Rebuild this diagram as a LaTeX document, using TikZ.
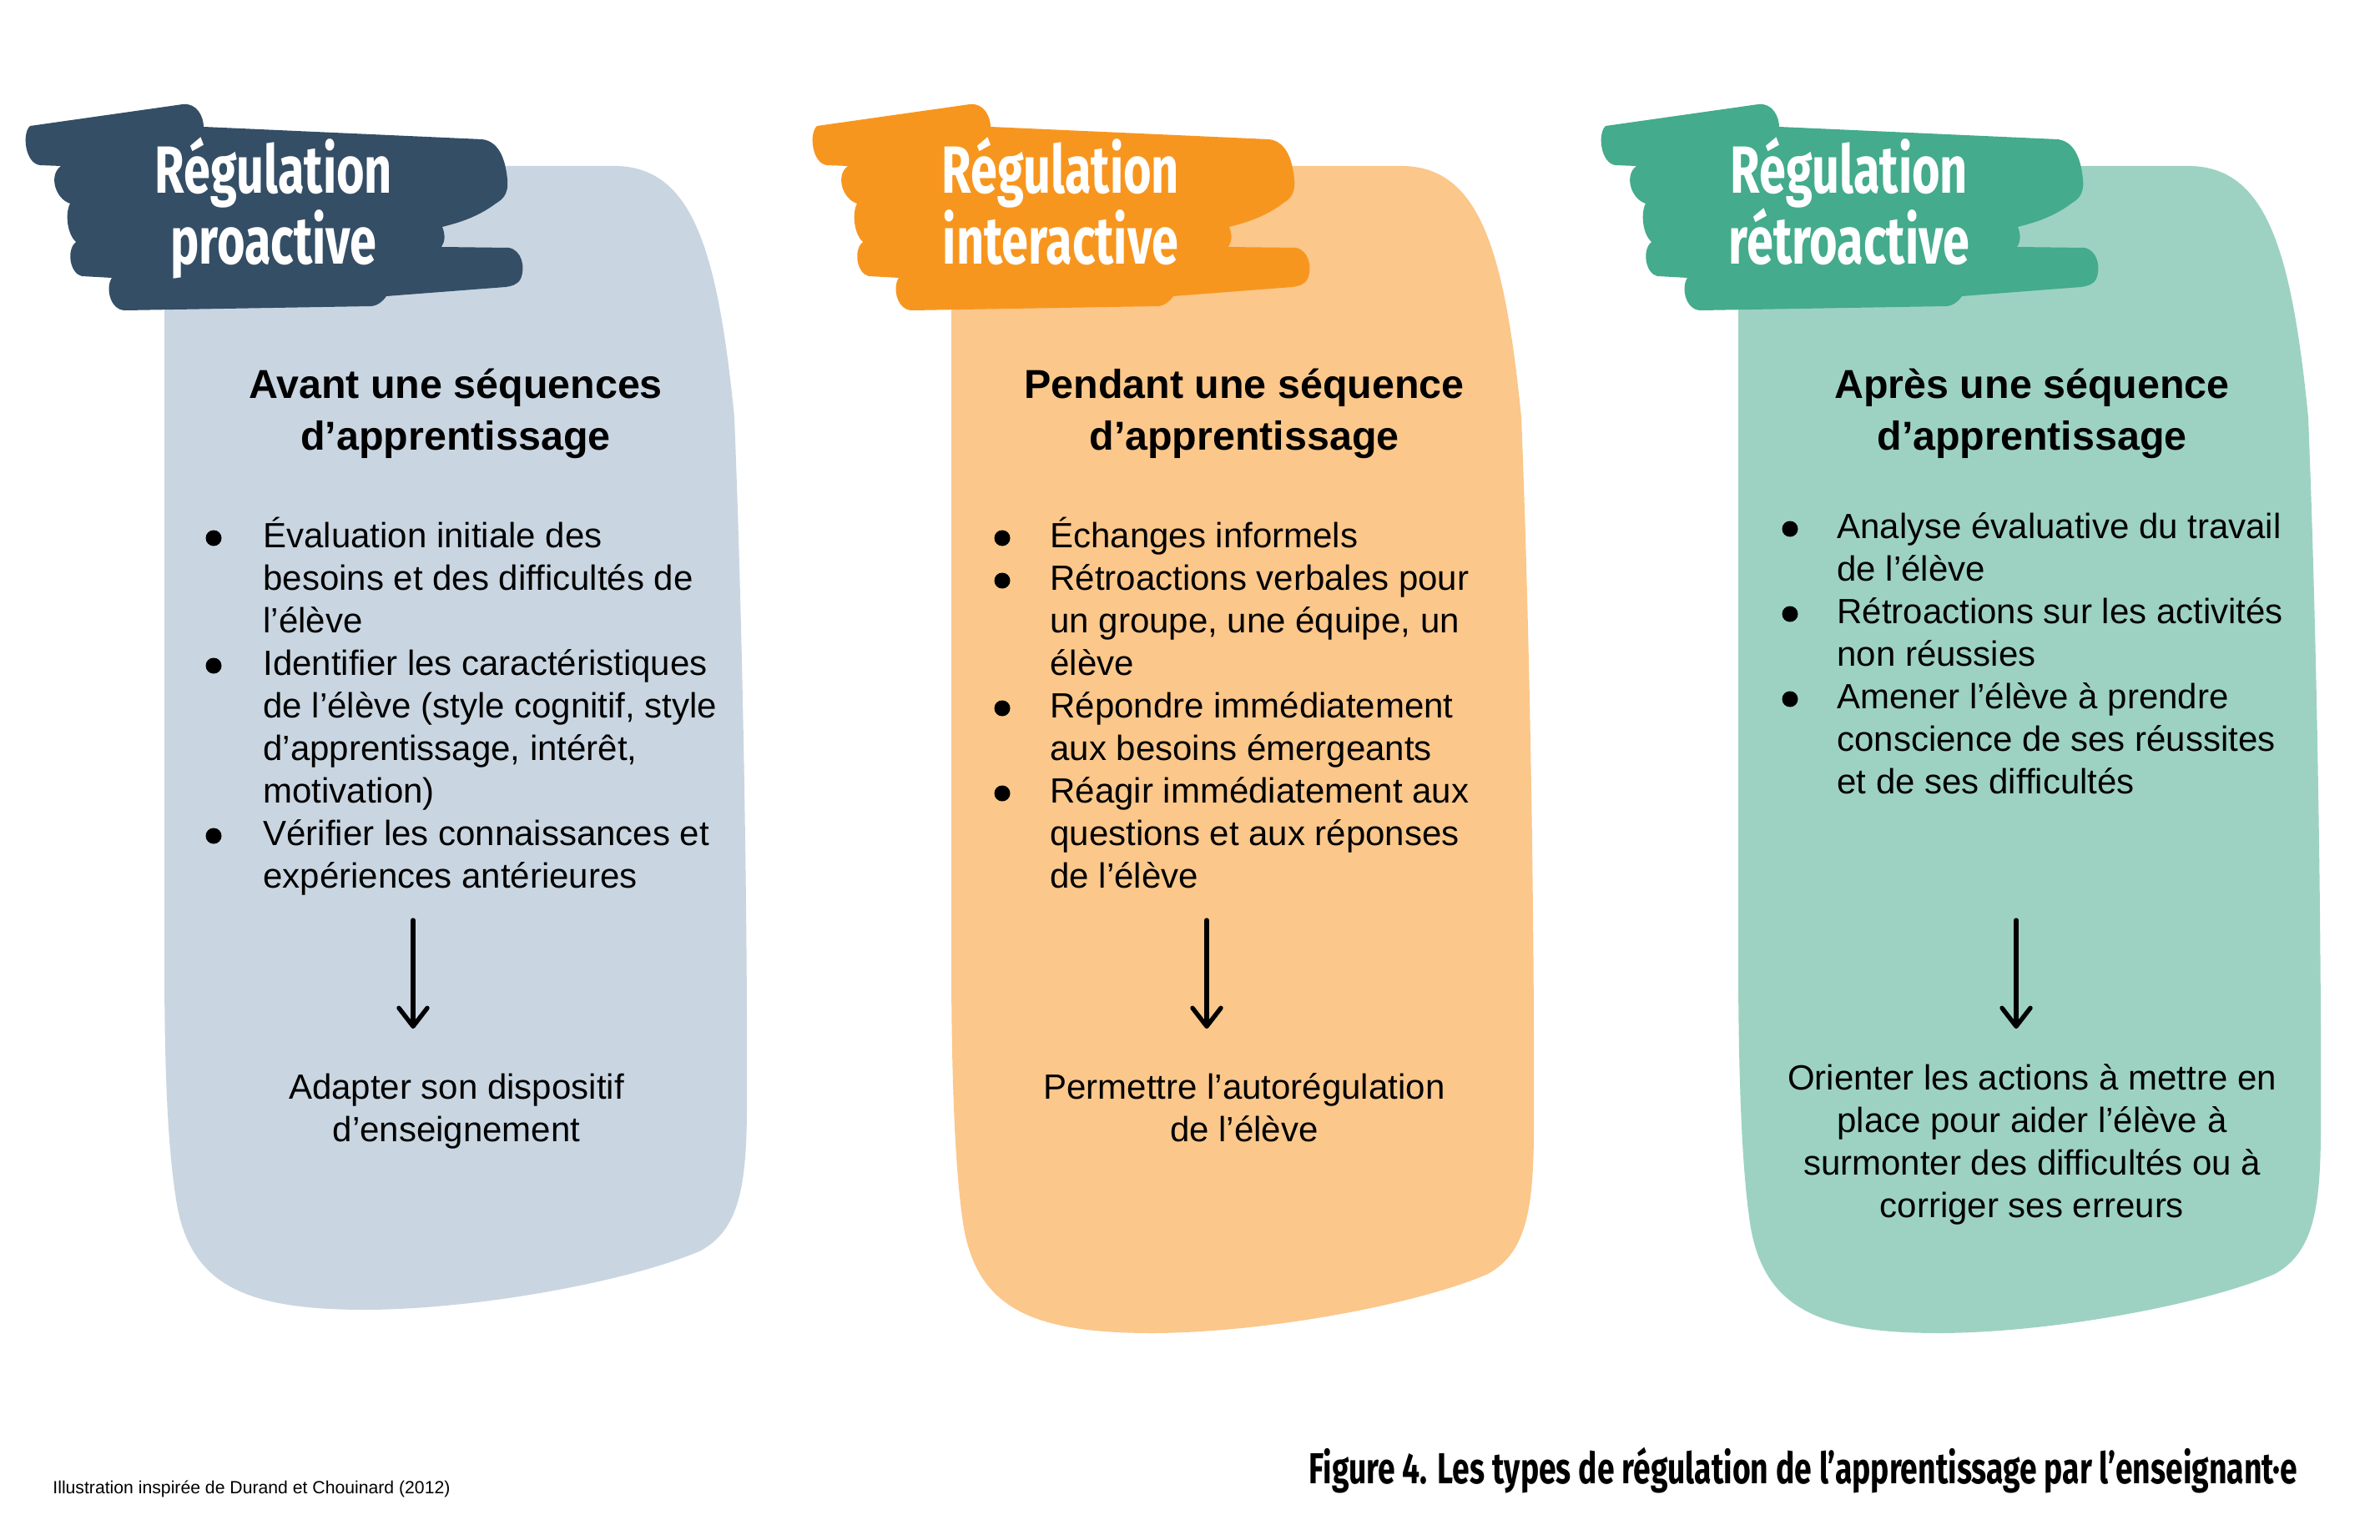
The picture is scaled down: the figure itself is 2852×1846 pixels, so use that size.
\documentclass[tikz,border=0pt]{standalone}
\usepackage{fontspec}
\setmainfont{Liberation Sans}
\newfontfamily\titlefont[FakeStretch=0.72]{Fira Sans}
\newfontfamily\capfont[FakeStretch=0.718]{Fira Sans}
\usetikzlibrary{arrows.meta}
\definecolor{pan1}{RGB}{201,214,225}
\definecolor{ban1}{RGB}{52,78,102}
\definecolor{pan2}{RGB}{251,199,138}
\definecolor{ban2}{RGB}{247,150,31}
\definecolor{pan3}{RGB}{157,210,194}
\definecolor{ban3}{RGB}{68,171,140}
\newcommand\Lrows[2]{\vtop{\baselineskip=#1\lineskiplimit=-\maxdimen\halign{##\hfil\cr#2\crcr}}}
\newcommand\Crows[2]{\vtop{\baselineskip=#1\lineskiplimit=-\maxdimen\halign{\hfil##\hfil\cr#2\crcr}}}
\newcommand\panelshape[1]{%
 (197,198) -- (740,199) .. controls (830,202) and (860,300) .. (880,500)
 .. controls (890,750) and (896,1100) .. (895,1340+#1)
 .. controls (895,1440+#1) and (885,1490+#1) .. (840,1515+#1)
 .. controls (760,1550+#1) and (580,1585+#1) .. (440,1586+#1)
 .. controls (300,1586+#1) and (230,1560+#1) .. (212,1460+#1)
 .. controls (202,1400+#1) and (197,1300) .. (197,1150) -- cycle}
\newcommand\bannershape{%
 (36,151) -- (219,125) .. controls (236,123) and (244,140) .. (244,152)
 -- (578,167) .. controls (600,170) and (606,195) .. (608,215)
 .. controls (610,235) and (600,240) .. (594,244)
 .. controls (570,262) and (545,268) .. (530,272)
 .. controls (534,282) and (533,290) .. (529,296)
 -- (610,297) .. controls (625,300) and (630,320) .. (624,334)
 .. controls (620,342) and (612,343) .. (606,344)
 -- (463,355) .. controls (458,362) and (453,366) .. (445,367)
 -- (150,372) .. controls (132,372) and (126,345) .. (134,333)
 -- (98,331) .. controls (84,328) and (79,300) .. (91,290)
 .. controls (80,280) and (78,255) .. (84,244)
 .. controls (66,238) and (58,210) .. (73,199)
 -- (48,198) .. controls (30,196) and (26,160) .. (36,151) -- cycle}
\tikzset{
 titletxt/.style={text=white, inner sep=0pt, anchor=base, font=\titlefont\bfseries\fontsize{40}{42.5}\selectfont},
 headtxt/.style={inner sep=0pt, anchor=base, font=\bfseries\fontsize{24.2}{31}\selectfont},
 bodytxt/.style={inner sep=0pt, anchor=base west, font=\fontsize{21}{25.5}\selectfont},
 restxt/.style={inner sep=0pt, anchor=base, font=\fontsize{21}{25.5}\selectfont},
 bul/.style={fill=black},
 downarrow/.style={line width=2.7pt, line cap=round, -{Straight Barb[length=11pt,width=17pt,round]}},
}
\begin{document}
\begin{tikzpicture}[x=0.5pt,y=-0.5pt]
\useasboundingbox (0,0) rectangle (2852,1846);
\fill[white] (0,0) rectangle (2852,1846);
% panels
\fill[pan1] \panelshape{-16};
\begin{scope}[shift={(943,0)}]
\fill[pan2] \panelshape{12};
\end{scope}
\begin{scope}[shift={(1886,0)}]
\fill[pan3] \panelshape{12};
\end{scope}
% banners
\fill[ban1] \bannershape;
\begin{scope}[shift={(943,0)}]
\fill[ban2] \bannershape;
\end{scope}
\begin{scope}[shift={(1888,0)}]
\fill[ban3] \bannershape;
\end{scope}
% titles
\node[titletxt] (t1) at (328,232) {\Crows{42.5pt}{Régulation\cr proactive}};
\node[titletxt] (t2) at (1271,232) {\Crows{42.5pt}{Régulation\cr interactive}};
\node[titletxt] (t3) at (2216,232) {\Crows{42.5pt}{Régulation\cr rétroactive}};
% headings
\node[headtxt] (h1) at (546,477) {\Crows{31pt}{Avant une séquences\cr d’apprentissage}};
\node[headtxt] (h2) at (1491,477) {\Crows{31pt}{Pendant une séquence\cr d’apprentissage}};
\node[headtxt] (h3) at (2435,477) {\Crows{31pt}{Après une séquence\cr d’apprentissage}};
% panel 1 bullets
\node[bodytxt] (p1i1) at (315,656) {\Lrows{25.5pt}{Évaluation initiale des\cr besoins et des difficultés de\cr l’élève}};
\node[bodytxt] (p1i2) at (315,809) {\Lrows{25.5pt}{Identifier les caractéristiques\cr de l’élève (style cognitif, style\cr d’apprentissage, intérêt,\cr motivation)}};
\node[bodytxt] (p1i3) at (315,1013) {\Lrows{25.5pt}{Vérifier les connaissances et\cr expériences antérieures}};
\fill[bul] (256,645) circle (9.5);
\fill[bul] (256,798) circle (9.5);
\fill[bul] (256,1002) circle (9.5);
% panel 2 bullets
\node[bodytxt] (p2i1) at (1258,656) {Échanges informels};
\node[bodytxt] (p2i2) at (1258,707) {\Lrows{25.5pt}{Rétroactions verbales pour\cr un groupe, une équipe, un\cr élève}};
\node[bodytxt] (p2i3) at (1258,860) {\Lrows{25.5pt}{Répondre immédiatement\cr aux besoins émergeants}};
\node[bodytxt] (p2i4) at (1258,962) {\Lrows{25.5pt}{Réagir immédiatement aux\cr questions et aux réponses\cr de l’élève}};
\fill[bul] (1201,645) circle (9.5);
\fill[bul] (1201,696) circle (9.5);
\fill[bul] (1201,849) circle (9.5);
\fill[bul] (1201,951) circle (9.5);
% panel 3 bullets
\node[bodytxt] (p3i1) at (2201,645) {\Lrows{25.5pt}{Analyse évaluative du travail\cr de l’élève}};
\node[bodytxt] (p3i2) at (2201,747) {\Lrows{25.5pt}{Rétroactions sur les activités\cr non réussies}};
\node[bodytxt] (p3i3) at (2201,849) {\Lrows{25.5pt}{Amener l’élève à prendre\cr conscience de ses réussites\cr et de ses difficultés}};
\fill[bul] (2145,634) circle (9.5);
\fill[bul] (2145,736) circle (9.5);
\fill[bul] (2145,838) circle (9.5);
% arrows
\coordinate (a1s) at (495,1103); \coordinate (a1e) at (495,1233);
\coordinate (a2s) at (1446,1103); \coordinate (a2e) at (1446,1233);
\coordinate (a3s) at (2416,1103); \coordinate (a3e) at (2416,1233);
\draw[downarrow] (a1s) -- (a1e);
\draw[downarrow] (a2s) -- (a2e);
\draw[downarrow] (a3s) -- (a3e);
% results
\node[restxt] (r1) at (547,1317) {\Crows{25.5pt}{Adapter son dispositif\cr d’enseignement}};
\node[restxt] (r2) at (1491,1317) {\Crows{25.5pt}{Permettre l’autorégulation\cr de l’élève}};
\node[restxt] (r3) at (2435,1306) {\Crows{25.5pt}{Orienter les actions à mettre en\cr place pour aider l’élève à\cr surmonter des difficultés ou à\cr corriger ses erreurs}};
% footer
\node[inner sep=0pt, anchor=base west, font=\fontsize{10.6}{12}\selectfont] (credit) at (63,1790) {Illustration inspirée de Durand et Chouinard (2012)};
\node[inner sep=0pt, anchor=base west, font=\capfont\bfseries\fontsize{26}{30}\selectfont] (caption) at (1568,1778) {Figure 4. Les types de régulation de l’apprentissage par l’enseignant·e};
\end{tikzpicture}
\end{document}
